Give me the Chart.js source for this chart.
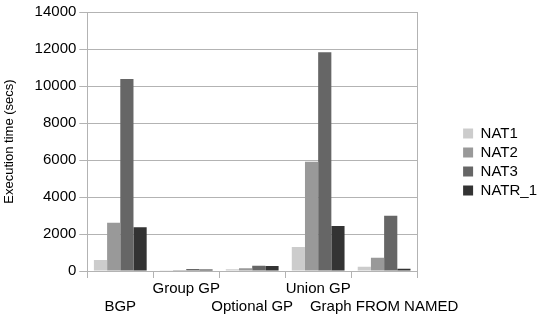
<!DOCTYPE html>
<html>
<head>
<meta charset="utf-8">
<script src="https://cdn.jsdelivr.net/npm/chart.js@4/dist/chart.umd.min.js"></script>
<style>
  body { margin: 0; background: #fff; }
  #wrap { width: 539px; height: 322px; position: relative; }
</style>
</head>
<body>
<div id="wrap"><canvas id="execChart"></canvas></div>
<script>
// query types (staggered over two lines like the original)
const categories = ['BGP', 'Group GP', 'Optional GP', 'Union GP', 'Graph FROM NAMED'];
const nat1 = [600, 40, 90, 1300, 230];
const nat2 = [2610, 50, 150, 5900, 720];
const nat3 = [10380, 110, 280, 11820, 2990];
const natr1 = [2360, 80, 270, 2430, 120];
const yTicks = [0, 2000, 4000, 6000, 8000, 10000, 12000, 14000];

const labelFont = { family: 'Liberation Sans, Arial, sans-serif', size: 15 };
const gridColor = '#b3b3b3';

// even index on 2nd line, odd index on 1st line
const staggered = categories.map((c, i) => i % 2 === 0 ? ['', c] : [c, '']);

const ctx = document.getElementById('execChart').getContext('2d');
new Chart(ctx, {
  type: 'bar',
  data: {
    labels: staggered,
    datasets: [
      { label: 'NAT1', data: nat1, backgroundColor: '#cccccc' },
      { label: 'NAT2', data: nat2, backgroundColor: '#999999' },
      { label: 'NAT3', data: nat3, backgroundColor: '#666666' },
      { label: 'NATR_1', data: natr1, backgroundColor: '#333333' }
    ]
  },
  options: {
    responsive: true,
    maintainAspectRatio: false,
    animation: false,
    layout: { padding: { left: 2, right: -8, top: 6, bottom: 4 } },
    datasets: { bar: { categoryPercentage: 0.8, barPercentage: 1.0, borderWidth: 0 } },
    plugins: {
      legend: {
        position: 'right',
        labels: {
          font: labelFont,
          color: '#000',
          boxWidth: 10,
          boxHeight: 10,
          padding: 4
        }
      },
      tooltip: { enabled: false }
    },
    scales: {
      x: {
        grid: { drawOnChartArea: false, drawTicks: true, tickLength: 7, color: gridColor },
        border: { color: gridColor },
        ticks: { font: labelFont, color: '#000', maxRotation: 0, autoSkip: false, padding: 2 }
      },
      y: {
        min: 0,
        max: 14000,
        afterBuildTicks(axis) { axis.ticks = yTicks.map(v => ({ value: v })); },
        grid: { color: gridColor, tickLength: 8 },
        border: { color: gridColor },
        ticks: { font: labelFont, color: '#000', padding: 3, callback: v => String(v) },
        title: {
          display: true,
          text: 'Execution time (secs)',
          font: { family: 'Liberation Sans, Arial, sans-serif', size: 13 },
          color: '#000',
          padding: { top: 0, bottom: 14 }
        }
      },
      // empty right axis: draws the right frame line and leaves the gap before the legend
      yRight: {
        position: 'right',
        min: 0,
        max: 14000,
        grid: { display: false },
        border: { display: true, color: gridColor },
        ticks: { display: false },
        afterFit(axis) { axis.width = 42; }
      }
    }
  }
});
</script>
</body>
</html>
